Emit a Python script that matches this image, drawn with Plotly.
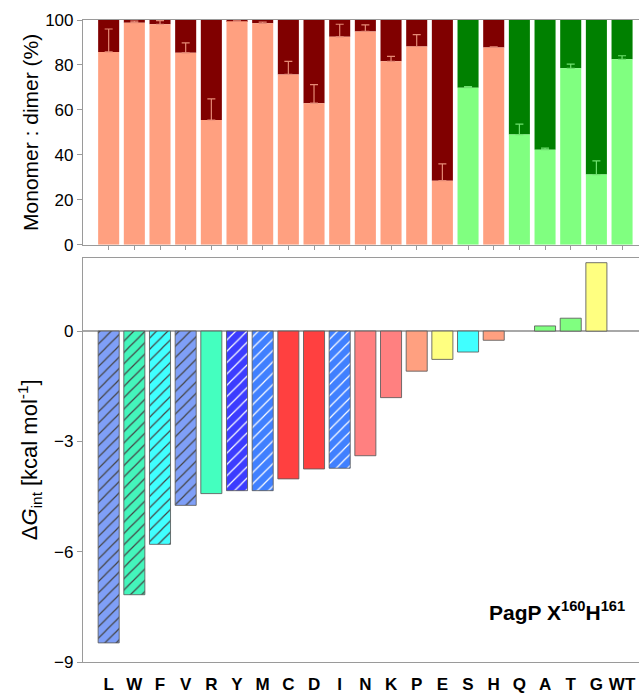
import plotly.graph_objects as go

residues = ["L", "W", "F", "V", "R", "Y", "M", "C", "D", "I", "N", "K", "P", "E", "S", "H", "Q", "A", "T", "G", "WT"]

# top panel: monomer percentage and upper end of error bar
monomer = [85.8, 98.8, 98.1, 85.4, 55.5, 99.4, 98.5, 75.8, 63.0, 92.5, 94.9, 81.6, 88.2, 28.5, 69.9, 87.8, 49.0, 42.3, 78.5, 31.2, 82.5]
monomer_err = [10.2, 0.7, 1.6, 4.4, 9.4, 0.2, 0.6, 5.8, 8.2, 5.6, 2.9, 2.2, 5.3, 7.5, 0.5, 0.3, 4.7, 0.7, 1.9, 6.1, 1.6]
group = ["r", "r", "r", "r", "r", "r", "r", "r", "r", "r", "r", "r", "r", "r", "g", "r", "g", "g", "g", "g", "g"]

# bottom panel: interaction free energy (Q and WT: no bar)
dG = [-8.48, -7.17, -5.80, -4.74, -4.42, -4.34, -4.34, -4.02, -3.75, -3.73, -3.39, -1.81, -1.09, -0.77, -0.57, -0.25, None, 0.14, 0.35, 1.86, None]
dG_colors = ["#7f9ff7", "#44f5bb", "#40ffff", "#7f9ff7", "#44ffbf", "#3c3cff", "#4080ff", "#ff4040", "#ff4040", "#4080ff",
             "#ff8080", "#ff8080", "#ffa080", "#ffff80", "#40ffff", "#ffa080", "#80ff80", "#80ff80", "#80ff80", "#ffff80", "#ffffff"]
dG_hatch = ["/", "/", "/", "/", "", "/", "/", "", "", "/", "", "", "", "", "", "", "", "", "", "", ""]

SALMON, DARKRED = "#ffa080", "#800000"
LGREEN, DGREEN = "#80ff80", "#008000"
AX = "#9a9a9a"
FONT = "Liberation Sans, Arial, sans-serif"

dimer = [100 - m for m in monomer]
fig = go.Figure()

fig.add_trace(go.Bar(
    x=residues, y=dimer, base=monomer, width=0.82,
    marker=dict(color=[DARKRED if g == "r" else DGREEN for g in group], line=dict(width=0)),
    xaxis="x", yaxis="y", showlegend=False))

for gkey, col, ecol in [("r", SALMON, "#e58a76"), ("g", LGREEN, "#6fe06f")]:
    fig.add_trace(go.Bar(
        x=residues,
        y=[m if g == gkey else None for m, g in zip(monomer, group)],
        width=0.82,
        marker=dict(color=col, line=dict(width=0)),
        error_y=dict(type="data", symmetric=False,
                     array=[e if g == gkey else None for e, g in zip(monomer_err, group)],
                     arrayminus=[0] * len(residues),
                     color=ecol, thickness=1.2, width=4),
        xaxis="x", yaxis="y", showlegend=False))

fig.add_trace(go.Bar(
    x=residues, y=dG, width=0.82,
    marker=dict(color=dG_colors, line=dict(color="rgba(90,90,90,0.85)", width=1),
                pattern=dict(shape=dG_hatch, fgcolor="#141a40", fgopacity=1, size=8, solidity=0.15)),
    xaxis="x2", yaxis="y2", showlegend=False))

xr = [-1.0, 20.66]
fig.update_layout(
    width=639, height=694,
    margin=dict(l=83, r=0, t=20, b=28),
    paper_bgcolor="white", plot_bgcolor="white",
    barmode="overlay",
    font=dict(family=FONT, color="black"),
    xaxis=dict(domain=[0, 1], anchor="y", type="category", range=xr,
               showline=True, linecolor=AX, linewidth=1.2, mirror=True,
               ticks="outside", ticklen=4, tickcolor=AX, showticklabels=False, showgrid=False),
    yaxis=dict(domain=[0.650, 1], anchor="x", range=[0, 100], tickvals=[0, 20, 40, 60, 80, 100],
               showline=True, linecolor=AX, linewidth=1.2, ticks="outside", ticklen=5, tickcolor=AX,
               showgrid=False, zeroline=False, tickfont=dict(size=17),
               title=dict(text="Monomer : dimer (%)", font=dict(size=21), standoff=0)),
    xaxis2=dict(domain=[0, 1], anchor="y2", type="category", range=xr,
                showline=True, linecolor=AX, linewidth=1.2, mirror=True,
                ticks="", showgrid=False, tickfont=dict(size=17, weight="bold"), ticklabelstandoff=6),
    yaxis2=dict(domain=[0, 0.630], anchor="x2", range=[-9, 2], tickvals=[-9, -6, -3, 0],
                showline=True, linecolor=AX, linewidth=1.2, ticks="outside", ticklen=5, tickcolor=AX,
                showgrid=False, zeroline=True, zerolinecolor="#a8a8a8", zerolinewidth=2,
                tickfont=dict(size=17),
                title=dict(text="Δ<i>G</i><sub>int</sub> [kcal mol<sup>-1</sup>]", font=dict(size=22), standoff=10)),
    annotations=[dict(text="<b>PagP X<sup>160</sup>H<sup>161</sup></b>", xref="paper", yref="paper",
                      x=0.978, y=0.080, xanchor="right", yanchor="middle", showarrow=False,
                      font=dict(size=21, family=FONT, color="black"))],
)

fig.write_html("out.html")
